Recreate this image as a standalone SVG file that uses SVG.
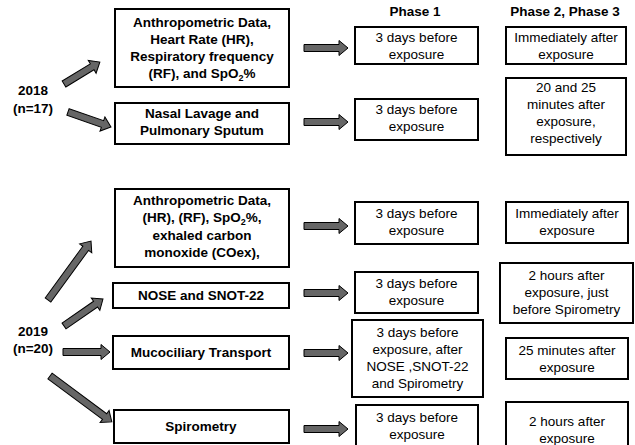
<svg xmlns="http://www.w3.org/2000/svg" width="635" height="445" viewBox="0 0 635 445">
<style>
.box{fill:#fff;stroke:#000;stroke-width:2}
.b{font-family:"Liberation Sans",Arial,sans-serif;font-weight:bold;font-size:13.5px;text-anchor:middle;fill:#000}
.r{font-family:"Liberation Sans",Arial,sans-serif;font-size:13.5px;text-anchor:middle;fill:#000}
.arr{fill:#666;stroke:#000;stroke-width:1;stroke-linejoin:miter}
.sub{font-size:9px}
</style>
<rect width="635" height="445" fill="#fff"/>
<g id="headers">
<text class="b" x="415" y="16">Phase 1</text>
<text class="b" x="565" y="16">Phase 2, Phase 3</text>
</g>
<g id="y2018"><text class="b" x="33" y="95">2018</text><text class="b" x="33" y="113">(n=17)</text></g>
<g id="y2019"><text class="b" x="33" y="336">2019</text><text class="b" x="33" y="353">(n=20)</text></g>

<g id="m1"><rect class="box" x="115" y="9" width="174" height="78"/>
<text class="b" x="202" y="27">Anthropometric Data,</text>
<text class="b" x="202" y="44">Heart Rate (HR),</text>
<text class="b" x="202" y="61">Respiratory frequency</text>
<text class="b" x="202" y="78">(RF), and SpO<tspan class="sub" dy="3">2</tspan><tspan dy="-3">%</tspan></text></g>
<g id="m2"><rect class="box" x="115" y="103" width="174" height="41"/>
<text class="b" x="202" y="118">Nasal Lavage and</text>
<text class="b" x="202" y="135">Pulmonary Sputum</text></g>
<g id="m3"><rect class="box" x="115" y="189" width="174" height="78"/>
<text class="b" x="202" y="205">Anthropometric Data,</text>
<text class="b" x="202" y="222">(HR), (RF), SpO<tspan class="sub" dy="3">2</tspan><tspan dy="-3">%,</tspan></text>
<text class="b" x="202" y="240">exhaled carbon</text>
<text class="b" x="202" y="257">monoxide (COex),</text></g>
<g id="m4"><rect class="box" x="113" y="283" width="176" height="25"/>
<text class="b" x="201" y="300">NOSE and SNOT-22</text></g>
<g id="m5"><rect class="box" x="113" y="336" width="176" height="33"/>
<text class="b" x="201" y="357">Mucociliary Transport</text></g>
<g id="m6"><rect class="box" x="114" y="410" width="175" height="33"/>
<text class="b" x="201" y="431">Spirometry</text></g>

<g id="p1a"><rect class="box" x="355" y="27" width="123" height="37"/>
<text class="r" x="416.5" y="42">3 days before</text><text class="r" x="416.5" y="59">exposure</text></g>
<g id="p2a"><rect class="box" x="506" y="27" width="120" height="37"/>
<text class="r" x="566" y="42">Immediately after</text><text class="r" x="566" y="59">exposure</text></g>
<g id="p1b"><rect class="box" x="355" y="99" width="123" height="41"/>
<text class="r" x="416.5" y="114">3 days before</text><text class="r" x="416.5" y="131">exposure</text></g>
<g id="p2b"><rect class="box" x="506" y="78" width="120" height="77"/>
<text class="r" x="566" y="92">20 and 25</text><text class="r" x="566" y="109">minutes after</text>
<text class="r" x="566" y="126">exposure,</text><text class="r" x="566" y="143">respectively</text></g>
<g id="p1c"><rect class="box" x="355" y="202" width="123" height="42"/>
<text class="r" x="416.5" y="218">3 days before</text><text class="r" x="416.5" y="235">exposure</text></g>
<g id="p2c"><rect class="box" x="506" y="202" width="122" height="41"/>
<text class="r" x="567" y="218">Immediately after</text><text class="r" x="567" y="235">exposure</text></g>
<g id="p1d"><rect class="box" x="355" y="272" width="123" height="41"/>
<text class="r" x="416.5" y="288">3 days before</text><text class="r" x="416.5" y="305">exposure</text></g>
<g id="p2d"><rect class="box" x="500" y="263" width="133" height="60"/>
<text class="r" x="566.5" y="280">2 hours after</text><text class="r" x="566.5" y="297">exposure, just</text>
<text class="r" x="566.5" y="314">before Spirometry</text></g>
<g id="p1e"><rect class="box" x="352" y="320" width="131" height="77"/>
<text class="r" x="417.5" y="337">3 days before</text><text class="r" x="417.5" y="354">exposure, after</text>
<text class="r" x="417.5" y="371">NOSE ,SNOT-22</text><text class="r" x="417.5" y="388">and Spirometry</text></g>
<g id="p2e"><rect class="box" x="506" y="338" width="122" height="41"/>
<text class="r" x="567" y="355">25 minutes after</text><text class="r" x="567" y="372">exposure</text></g>
<g id="p1f"><rect class="box" x="356" y="405" width="122" height="45"/>
<text class="r" x="417" y="422">3 days before</text><text class="r" x="417" y="439">exposure</text></g>
<g id="p2f"><rect class="box" x="506" y="402" width="122" height="48"/>
<text class="r" x="567" y="426">2 hours after</text><text class="r" x="567" y="443">exposure</text></g>

<g id="connectors">
<path class="arr" transform="translate(64,84) rotate(-31.4)" d="M0,-3.5 H33 V-7.5 L42,0 L33,7.5 V3.5 H0 Z"/>
<path class="arr" transform="translate(68,112) rotate(19.2)" d="M0,-3.5 H36.5 V-7.5 L45.5,0 L36.5,7.5 V3.5 H0 Z"/>
<path class="arr" transform="translate(48,300) rotate(-53.9)" d="M0,-3.5 H64 V-7.5 L73,0 L64,7.5 V3.5 H0 Z"/>
<path class="arr" transform="translate(64,326) rotate(-34.7)" d="M0,-3.5 H38.4 V-7.5 L47.4,0 L38.4,7.5 V3.5 H0 Z"/>
<path class="arr" transform="translate(63,352)" d="M0,-3.5 H38 V-7.5 L47,0 L38,7.5 V3.5 H0 Z"/>
<path class="arr" transform="translate(50,376) rotate(36.6)" d="M0,-3.5 H68 V-7.5 L77,0 L68,7.5 V3.5 H0 Z"/>
<path class="arr" transform="translate(304,48)" d="M0,-3.5 H35 V-7.5 L44,0 L35,7.5 V3.5 H0 Z"/>
<path class="arr" transform="translate(304,122)" d="M0,-3.5 H35 V-7.5 L44,0 L35,7.5 V3.5 H0 Z"/>
<path class="arr" transform="translate(304,226)" d="M0,-3.5 H35 V-7.5 L44,0 L35,7.5 V3.5 H0 Z"/>
<path class="arr" transform="translate(304,293)" d="M0,-3.5 H35 V-7.5 L44,0 L35,7.5 V3.5 H0 Z"/>
<path class="arr" transform="translate(304,353)" d="M0,-3.5 H35 V-7.5 L44,0 L35,7.5 V3.5 H0 Z"/>
<path class="arr" transform="translate(304,429)" d="M0,-3.5 H35 V-7.5 L44,0 L35,7.5 V3.5 H0 Z"/>
</g>
</svg>
